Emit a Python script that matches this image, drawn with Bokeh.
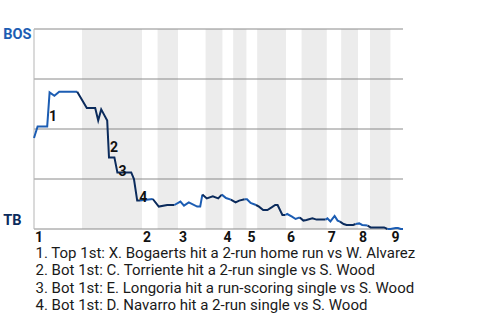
from bisect import bisect_right
from bokeh.plotting import figure
from bokeh.models import ColumnDataSource, Range1d
from bokeh.core.properties import value
from bokeh.embed import file_html
from bokeh.resources import INLINE

# ---- data (x = pitch count through the game, y = BOS win probability) ----
pitch = [0, 3, 11, 13, 17, 21, 36,
         44, 51, 53.5, 56, 61, 62.5, 67, 69.5, 81, 83.3, 86, 88.3,
         99,
         104, 111, 117,
         122, 125, 129, 136, 138.5, 140.3,
         144, 149, 153.5, 156.5,
         160, 164,
         168, 171, 175.5,
         177.5, 180.5, 185,
         187.5, 191, 194.5, 198, 201, 203, 207, 209.5,
         211, 215, 218, 221.5,
         224.5, 227, 232, 235.5, 243,
         244.5, 247, 250.5, 253, 255,
         258, 260.5, 266, 268,
         271, 273.5, 278,
         280.5, 291.7, 294.5, 297,
         301.4, 303.3, 305.6, 307.5]
bos_wp = [0.455, 0.513, 0.513, 0.683, 0.666, 0.686, 0.686,
          0.605, 0.605, 0.543, 0.598, 0.542, 0.358, 0.358, 0.283, 0.283, 0.25, 0.142, 0.142,
          0.15,
          0.112, 0.12, 0.12,
          0.137, 0.117, 0.133, 0.112, 0.112, 0.172,
          0.153, 0.163, 0.153, 0.172,
          0.155, 0.147,
          0.133, 0.142, 0.149,
          0.149, 0.13, 0.12,
          0.112, 0.095, 0.095, 0.108, 0.12, 0.12, 0.07, 0.07,
          0.075, 0.062, 0.05, 0.058,
          0.042, 0.045, 0.053, 0.047, 0.047,
          0.053, 0.038, 0.065, 0.042, 0.037,
          0.025, 0.02, 0.02, 0.025,
          0.028, 0.02, 0.017,
          0.008, 0.008, 0.0, 0.0,
          0.005, 0.005, 0.0, 0.0]
assert len(pitch) == len(bos_wp)

# start pitch of every half inning (top 1st, bot 1st, top 2nd, ...)
half_starts = [0, 40, 90, 103, 120, 143, 157, 166, 177, 186, 210, 223, 244, 256, 270, 280, 297]
game_end = 307.5
inning_labels = ["1", "2", "3", "4", "5", "6", "7", "8", "9"]
wp_grid = [0, 0.25, 0.5, 0.75, 1]
teams = ["BOS", "TB"]
team_wp = [1, 0]

event_pitch = [13, 62.5, 69.5, 86]
event_wp = [0.683, 0.358, 0.283, 0.142]
event_marks = ["1", "2", "3", "4"]
event_texts = [
    "1. Top 1st: X. Bogaerts hit a 2-run home run vs W. Alvarez",
    "2. Bot 1st: C. Torriente hit a 2-run single vs S. Wood",
    "3. Bot 1st: E. Longoria hit a run-scoring single vs S. Wood",
    "4. Bot 1st: D. Navarro hit a 2-run single vs S. Wood",
]

# ---- styling / layout ----
BOS_BLUE = "#1c5db3"
TB_NAVY = "#0b2b5c"
FONT = "Roboto"
W, H = 480, 320
PX_X = 369 / game_end          # pixels per pitch
PX_Y = 200.0                   # pixels per unit of probability
LEFT, TOP = 33.5, 28.5         # pixel position of (pitch 0, wp 1)

x0 = -LEFT / PX_X
y1 = 1 + TOP / PX_Y
p = figure(width=W, height=H, output_backend="svg", toolbar_location=None,
           x_range=Range1d(x0, x0 + W / PX_X), y_range=Range1d(y1 - H / PX_Y, y1),
           min_border=0)
p.axis.visible = False
p.grid.visible = False
p.outline_line_color = None
p.background_fill_color = "white"
p.border_fill_color = "white"

# shaded bottom halves
bot_left = half_starts[1::2]
bot_right = [half_starts[i + 1] if i + 1 < len(half_starts) else game_end
             for i in range(1, len(half_starts), 2)]
p.quad(left=bot_left, right=bot_right, bottom=0, top=1,
       fill_color="#ececec", line_color=None)

# horizontal rules and left rule
p.segment(x0=0, x1=game_end, y0=wp_grid, y1=wp_grid, line_color="#8a8a8a", line_width=1)
p.segment(x0=0, x1=0, y0=0, y1=1, line_color="#b5b5b5", line_width=1)

# win-probability line, coloured by batting team of each half inning
groups_x, groups_y, groups_c = [], [], []
prev_color = None
for i, (x, y) in enumerate(zip(pitch, bos_wp)):
    h = bisect_right(half_starts, x) - 1 if i > 0 else 0
    color = BOS_BLUE if h % 2 == 0 else TB_NAVY
    if color != prev_color:
        if i > 0:
            groups_x.append([pitch[i - 1]])
            groups_y.append([bos_wp[i - 1]])
        else:
            groups_x.append([])
            groups_y.append([])
        groups_c.append(color)
        prev_color = color
    groups_x[-1].append(x)
    groups_y[-1].append(y)

p.multi_line(xs=groups_x, ys=groups_y, line_color=groups_c, line_width=2,
             line_join="miter")

# event markers on the line
mark_dx = [3.5, 5, 5, 6]
mark_dy = [23, -11, -1.5, -4]
msrc = ColumnDataSource(dict(x=event_pitch, y=event_wp, t=event_marks, dx=mark_dx, dy=mark_dy))
p.text(x="x", y="y", text="t", source=msrc, x_offset="dx", y_offset="dy",
       text_align="center", text_baseline="middle",
       text_font=value(FONT), text_font_style="bold", text_font_size="14px",
       text_color="#111111")

# inning numbers under the chart
top_starts = half_starts[0::2]
p.text(x=top_starts, y=0, text=inning_labels,
       x_offset=1, y_offset=7.8, text_align="left", text_baseline="middle",
       text_font=value(FONT), text_font_style="bold", text_font_size="14px",
       text_color="#111111")

# team labels
p.text(x=0, y=team_wp, text=teams, x_offset=-30.8, y_offset=[5.5, -8.5],
       text_align="left", text_baseline="middle",
       text_font=value(FONT), text_font_style="bold", text_font_size="14.5px",
       text_color=[BOS_BLUE, TB_NAVY])

# event descriptions below the chart
p.text(x=0, y=0, text=event_texts, x_offset=1.5,
       y_offset=[24.2 + 17.2 * k for k in range(len(event_texts))],
       text_align="left", text_baseline="middle",
       text_font=value(FONT), text_font_size="15px", text_color="#1a1a1a")

open("out.html", "w").write(file_html(p, INLINE))
